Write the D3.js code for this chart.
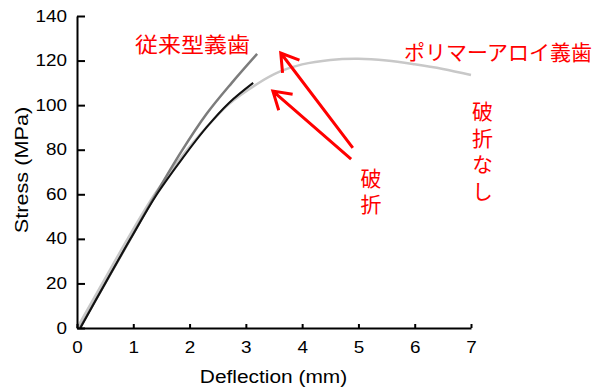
<!DOCTYPE html>
<html>
<head>
<meta charset="utf-8">
<script src="https://cdn.jsdelivr.net/npm/d3@7"></script>
<style>
  html, body { margin: 0; padding: 0; background: #fff; }
  svg { display: block; }
</style>
</head>
<body>
<svg id="chart" width="597" height="387"></svg>
<script>
// ---- data ----
const xTicks = [0, 1, 2, 3, 4, 5, 6, 7];
const yTicks = [0, 20, 40, 60, 80, 100, 120, 140];

// conventional denture, specimen A (dark gray)
const convA_x = [0.05, 0.5, 0.95, 1.4, 1.85, 2.3, 2.75, 3.2];
const convA_y = [0, 20, 40, 60, 79, 96, 110, 123];

// conventional denture, specimen B (black)
const convB_x = [0.06, 0.5, 0.95, 1.42, 1.9, 2.3, 2.7, 3.13];
const convB_y = [0, 20, 40, 60, 77, 90, 101, 110];

// polymer alloy denture (light gray)
const poly_x = [0, 0.45, 0.9, 1.38, 1.88, 2.3, 2.7, 3.2, 3.6, 4.0, 4.5, 5.0, 5.5, 6.0, 6.5, 7.0];
const poly_y = [0, 20, 40, 60, 77.5, 90, 100.5, 109.5, 115, 118.3, 120.3, 120.8, 120, 118.3, 116.2, 113.5];

// annotation arrows (data coordinates: tail -> tip)
const arrowTail = [[4.90, 80.8], [4.87, 75.8]];
const arrowTip  = [[3.62, 123.4], [3.48, 106.3]];

// ---- layout ----
const svg = d3.select("#chart");
const x = d3.scaleLinear().domain([0, 7]).range([77, 471]);
const y = d3.scaleLinear().domain([0, 140]).range([328, 16]);
const STRETCH = 1.18;

function stretch(sel, factor) {
  sel.each(function () {
    const len = this.getComputedTextLength();
    d3.select(this).attr("textLength", len * factor).attr("lengthAdjust", "spacingAndGlyphs");
  });
}

// series
const line = d3.line().x(d => x(d[0])).y(d => y(d[1])).curve(d3.curveCatmullRom.alpha(0.5));
const zip = (a, b) => a.map((v, i) => [v, b[i]]);

svg.append("path").attr("d", line(zip(poly_x, poly_y)))
  .attr("fill", "none").attr("stroke", "#c8c8c8").attr("stroke-width", 2.5);
svg.append("path").attr("d", line(zip(convA_x, convA_y)))
  .attr("fill", "none").attr("stroke", "#7c7c7c").attr("stroke-width", 2.5);
svg.append("path").attr("d", line(zip(convB_x, convB_y)))
  .attr("fill", "none").attr("stroke", "#111").attr("stroke-width", 2);

// axes
const xAxis = d3.axisBottom(x).tickValues(xTicks).tickFormat(d3.format("d"))
  .tickSizeInner(-4).tickSizeOuter(0).tickPadding(14);
const yAxis = d3.axisLeft(y).tickValues(yTicks).tickFormat(d3.format("d"))
  .tickSizeInner(-8).tickSizeOuter(0).tickPadding(10);

const gx = svg.append("g").attr("transform", "translate(0,328)").call(xAxis);
const gy = svg.append("g").attr("transform", "translate(77,0)").call(yAxis);
[gx, gy].forEach(g => {
  g.select(".domain").attr("stroke", "#000").attr("stroke-width", 2);
  g.selectAll(".tick line").attr("stroke", "#000").attr("stroke-width", 2);
  g.selectAll(".tick text").attr("fill", "#000")
    .attr("font-family", "'Liberation Sans', Arial, sans-serif").attr("font-size", 16);
  stretch(g.selectAll(".tick text"), STRETCH);
});

// axis titles
const xt = svg.append("text").attr("x", 273.5).attr("y", 383)
  .attr("text-anchor", "middle").attr("font-family", "'Liberation Sans', Arial, sans-serif")
  .attr("font-size", 18).attr("fill", "#000").text("Deflection (mm)");
stretch(xt, 1.16);
const yt = svg.append("text").attr("transform", "translate(28,170) rotate(-90)")
  .attr("text-anchor", "middle").attr("font-family", "'Liberation Sans', Arial, sans-serif")
  .attr("font-size", 19).attr("fill", "#000").text("Stress (MPa)");
stretch(yt, 1.14);

// annotations
const jp = "'Noto Sans CJK JP', sans-serif";
svg.append("text").attr("x", 135).attr("y", 51.5).attr("font-family", jp).attr("font-size", 21)
  .attr("fill", "#ff0000").attr("textLength", 115).attr("lengthAdjust", "spacingAndGlyphs").text("従来型義歯");
svg.append("text").attr("x", 404).attr("y", 59.5).attr("font-family", jp).attr("font-size", 21)
  .attr("fill", "#ff0000").attr("textLength", 188).attr("lengthAdjust", "spacingAndGlyphs").text("ポリマーアロイ義歯");

// vertical labels
svg.append("text").attr("x", 371).attr("y", 168)
  .style("writing-mode", "vertical-rl").style("letter-spacing", "5px")
  .attr("font-family", jp).attr("font-size", 21).attr("fill", "#ff0000").text("破折");
svg.append("text").attr("x", 482.5).attr("y", 101)
  .style("writing-mode", "vertical-rl").style("letter-spacing", "5.5px")
  .attr("font-family", jp).attr("font-size", 21).attr("fill", "#ff0000").text("破折なし");

// arrows
arrowTail.forEach((t, i) => {
  const tx = x(t[0]), ty = y(t[1]);
  const px = x(arrowTip[i][0]), py = y(arrowTip[i][1]);
  const ang = Math.atan2(ty - py, tx - px);
  const L = 20, spread = 32 * Math.PI / 180;
  const a1 = [px + L * Math.cos(ang - spread), py + L * Math.sin(ang - spread)];
  const a2 = [px + L * Math.cos(ang + spread), py + L * Math.sin(ang + spread)];
  svg.append("path")
    .attr("d", `M${tx},${ty}L${px},${py}M${a1[0]},${a1[1]}L${px},${py}L${a2[0]},${a2[1]}`)
    .attr("fill", "none").attr("stroke", "#ff0000").attr("stroke-width", 3)
    .attr("stroke-linejoin", "miter");
});
</script>
</body>
</html>
